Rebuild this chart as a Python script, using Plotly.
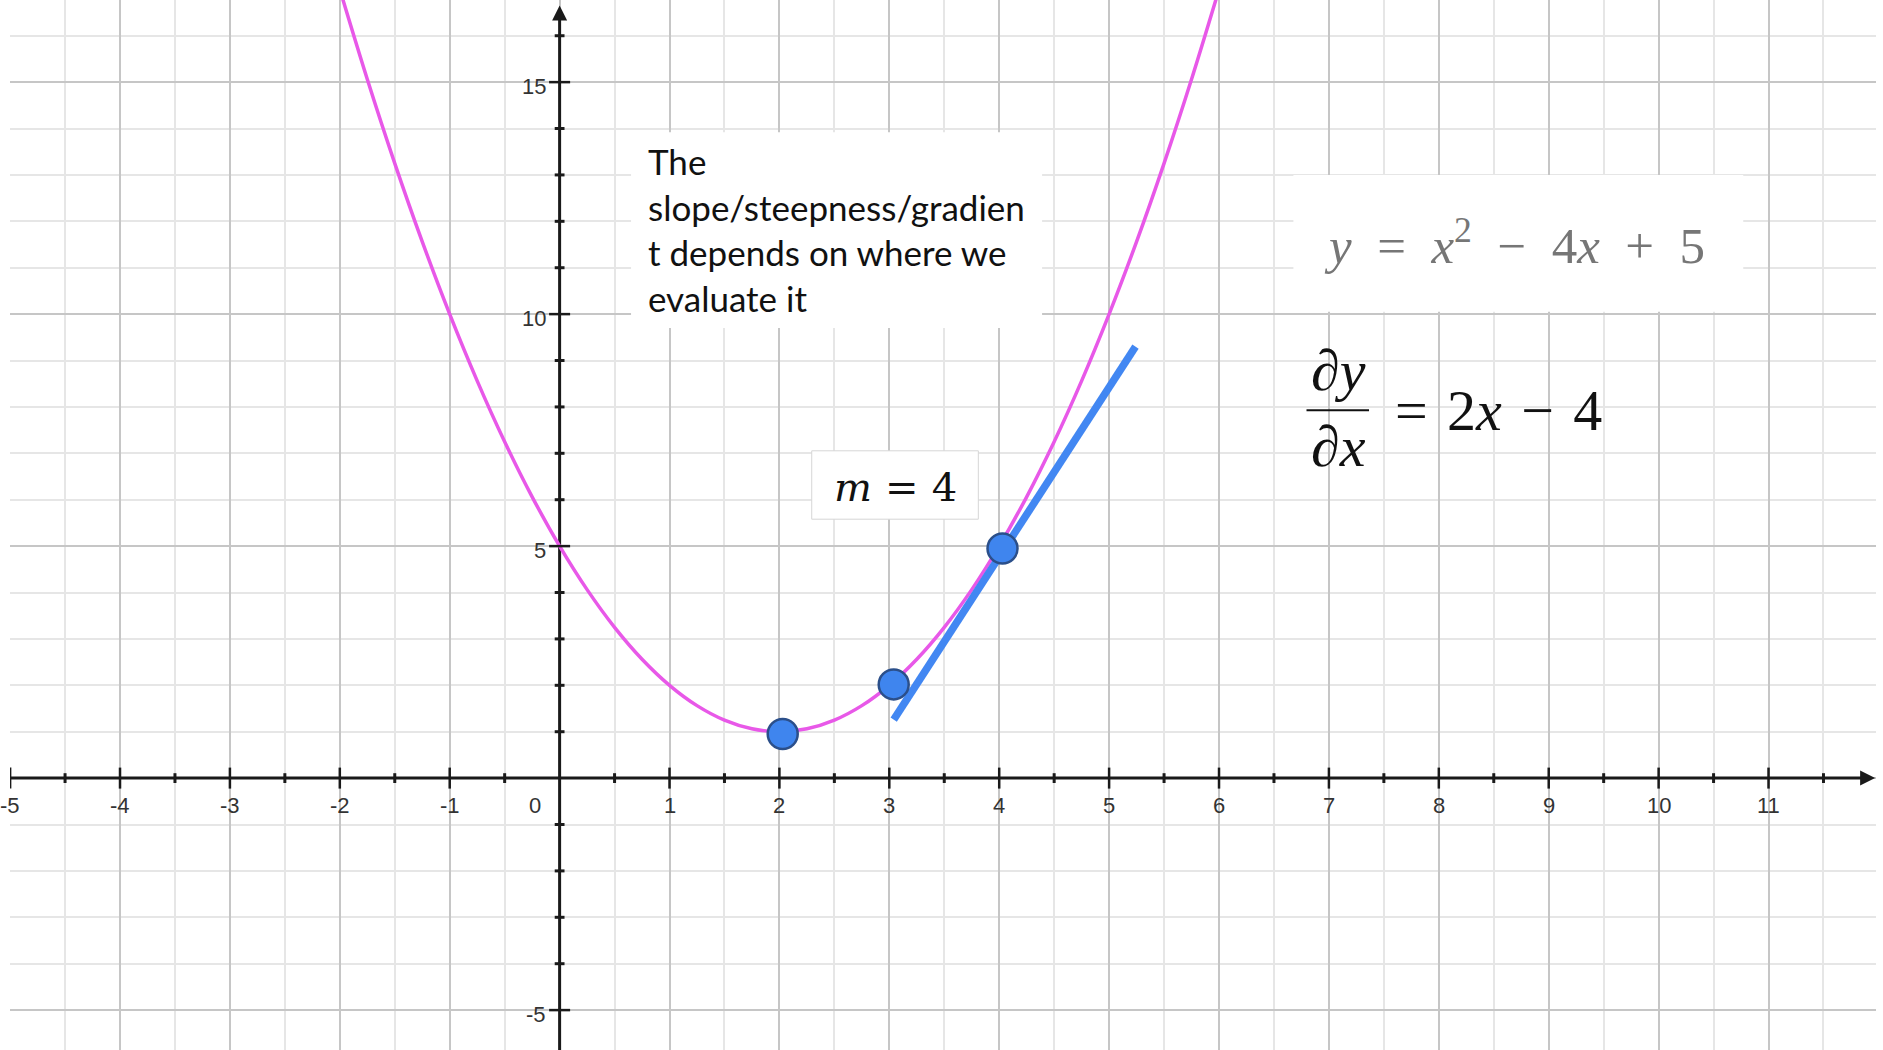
import plotly.graph_objects as go

# ---------------- data ----------------
curve_x = [-2, -1.75, -1.5, -1.25, -1, -0.75, -0.5, -0.25, 0, 0.25, 0.5, 0.75, 1,
           1.25, 1.5, 1.75, 2, 2.25, 2.5, 2.75, 3, 3.25, 3.5, 3.75, 4, 4.25, 4.5,
           4.75, 5, 5.25, 5.5, 5.75, 6]
curve_y = [17, 15.0625, 13.25, 11.5625, 10, 8.5625, 7.25, 6.0625, 5, 4.0625, 3.25,
           2.5625, 2, 1.5625, 1.25, 1.0625, 1, 1.0625, 1.25, 1.5625, 2, 2.5625, 3.25,
           4.0625, 5, 6.0625, 7.25, 8.5625, 10, 11.5625, 13.25, 15.0625, 17]

points_x = [2.03, 3.04, 4.03]
points_y = [0.95, 2.02, 4.95]

tangent_x = [3.04, 5.24]
tangent_y = [1.26, 9.30]

x_tick_values = [-5, -4, -3, -2, -1, 0, 1, 2, 3, 4, 5, 6, 7, 8, 9, 10, 11]
x_tick_labels = ["-5", "-4", "-3", "-2", "-1", "0", "1", "2", "3", "4", "5", "6",
                 "7", "8", "9", "10", "11"]
y_tick_values = [-5, 5, 10, 15]
y_tick_labels = ["-5", "5", "10", "15"]

X_RANGE = [-5.001, 11.978]
Y_RANGE = [-5.86, 16.77]
X_ARROW_TIP = 11.97
Y_ARROW_TIP = 16.65

EN = "\u2002"   # en space
TPE = "\u2004"  # three-per-em space
AXIS_COLOR = "#1a1a1a"

# ---------------- figure ----------------
fig = go.Figure()

fig.add_trace(go.Scatter(x=curve_x, y=curve_y, mode="lines", line_shape="spline",
                         line=dict(color="#E858E8", width=3.5), hoverinfo="skip"))
fig.add_trace(go.Scatter(x=tangent_x, y=tangent_y, mode="lines",
                         line=dict(color="#4287F2", width=7.5), hoverinfo="skip"))
fig.add_trace(go.Scatter(x=points_x, y=points_y, mode="markers",
                         marker=dict(size=30, color="#3F85EE",
                                     line=dict(color="#2B4F8A", width=2.5)),
                         hoverinfo="skip"))

# axis tick marks drawn along the zero lines
x_major = [v for v in x_tick_values if v != 0]
x_minor = [v + 0.5 for v in x_tick_values]
y_minor = [v for v in range(-5, 17) if v % 5 != 0]
fig.add_trace(go.Scatter(x=x_major, y=[0] * len(x_major), mode="markers",
                         marker=dict(symbol="line-ns", size=15,
                                     line=dict(color=AXIS_COLOR, width=2.5)),
                         hoverinfo="skip"))
fig.add_trace(go.Scatter(x=x_minor, y=[0] * len(x_minor), mode="markers",
                         marker=dict(symbol="line-ns", size=7,
                                     line=dict(color=AXIS_COLOR, width=3)),
                         hoverinfo="skip"))
fig.add_trace(go.Scatter(x=[0] * len(y_tick_values), y=y_tick_values, mode="markers",
                         marker=dict(symbol="line-ew", size=15,
                                     line=dict(color=AXIS_COLOR, width=2.5)),
                         hoverinfo="skip"))
fig.add_trace(go.Scatter(x=[0] * len(y_minor), y=y_minor, mode="markers",
                         marker=dict(symbol="line-ew", size=7,
                                     line=dict(color=AXIS_COLOR, width=3)),
                         hoverinfo="skip"))
# arrow heads at the ends of the axes
fig.add_trace(go.Scatter(x=[X_ARROW_TIP, 0], y=[0, Y_ARROW_TIP], mode="markers",
                         marker=dict(symbol=["arrow-right", "arrow-up"], size=15,
                                     color=AXIS_COLOR, line=dict(width=0)),
                         hoverinfo="skip"))

annotations = []
label_font = dict(family="Liberation Sans, Arial, sans-serif", size=22, color="#333333")
for v, t in zip(x_tick_values, x_tick_labels):
    annotations.append(dict(x=v, y=0, text=t, showarrow=False, font=label_font,
                            xanchor="center", yanchor="middle",
                            xshift=(-25 if v == 0 else 0), yshift=-27))
for v, t in zip(y_tick_values, y_tick_labels):
    annotations.append(dict(x=0, y=v, text=t, showarrow=False, font=label_font,
                            xanchor="right", yanchor="middle", xshift=-12, yshift=-4))

# explanatory text
annotations.append(dict(x=0.783, y=11.83, xanchor="left", yanchor="middle", align="left",
                        showarrow=False,
                        text="The<br>slope/steepness/gradien<br>t depends on where we<br>evaluate it",
                        font=dict(family="Lato, sans-serif", size=35, color="#111111")))
annotations.append(dict(x=3.052, y=6.27, xanchor="center", yanchor="middle", showarrow=False,
                        text=f"<i>m</i>{TPE}={TPE}4",
                        font=dict(family="DejaVu Serif, serif", size=40, color="#111111")))
annotations.append(dict(x=8.685, y=11.55, xanchor="center", yanchor="middle", showarrow=False,
                        text=f"<i>y</i>{EN}={EN}<i>x</i><sup>2</sup>{EN}−{EN}4<i>x</i>{EN}+{EN}5",
                        font=dict(family="Liberation Serif, serif", size=51, color="#767676")))
deriv_font = dict(family="Liberation Serif, serif", size=58, color="#111111")
annotations.append(dict(x=7.083, y=8.78, xanchor="center", yanchor="middle", showarrow=False,
                        text="∂<i>y</i>", font=deriv_font))
annotations.append(dict(x=7.083, y=7.15, xanchor="center", yanchor="middle", showarrow=False,
                        text="∂<i>x</i>", font=deriv_font))
annotations.append(dict(x=7.583, y=7.93, xanchor="left", yanchor="middle", showarrow=False,
                        text=f"={TPE}2<i>x</i>{TPE}−{TPE}4", font=deriv_font))

shapes = [
    # axis lines
    dict(type="line", xref="x", yref="y", x0=X_RANGE[0], x1=X_ARROW_TIP - 0.08, y0=0, y1=0,
         line=dict(width=3, color=AXIS_COLOR), layer="between"),
    dict(type="line", xref="x", yref="y", x0=0, x1=0, y0=Y_RANGE[0], y1=Y_ARROW_TIP - 0.2,
         line=dict(width=3, color=AXIS_COLOR), layer="between"),
    # text boxes
    dict(type="rect", xref="x", yref="y", x0=0.65, x1=4.39, y0=9.70, y1=13.92,
         fillcolor="white", line=dict(width=0), layer="above"),
    dict(type="rect", xref="x", yref="y", x0=2.294, x1=3.81, y0=5.58, y1=7.054,
         fillcolor="white", line=dict(width=1, color="#d6d6d6"), layer="above"),
    dict(type="rect", xref="x", yref="y", x0=6.677, x1=10.77, y0=10.05, y1=13.0,
         fillcolor="white", line=dict(width=0), layer="above"),
    dict(type="line", xref="x", yref="y", x0=6.796, x1=7.365, y0=7.93, y1=7.93,
         line=dict(width=2, color="#111111"), layer="above"),
]

fig.update_layout(
    width=1883, height=1050,
    margin=dict(l=10, r=7, t=0, b=0),
    paper_bgcolor="white", plot_bgcolor="white",
    showlegend=False,
    annotations=annotations,
    shapes=shapes,
    xaxis=dict(range=X_RANGE, tick0=0, dtick=1, showgrid=True, gridcolor="#c6c6c6",
               gridwidth=2, zeroline=False, showticklabels=False, ticks="",
               showline=False, fixedrange=True,
               minor=dict(tick0=0, dtick=0.5, showgrid=True, gridcolor="#e6e6e6",
                          gridwidth=1.5)),
    yaxis=dict(range=Y_RANGE, tick0=0, dtick=5, showgrid=True, gridcolor="#c6c6c6",
               gridwidth=2, zeroline=False, showticklabels=False, ticks="",
               showline=False, fixedrange=True,
               minor=dict(tick0=0, dtick=1, showgrid=True, gridcolor="#e6e6e6",
                          gridwidth=1.5)),
)

fig.write_html("out.html", config={"displayModeBar": False},
               post_script="document.body.style.margin='0';document.body.style.overflow='hidden';")
